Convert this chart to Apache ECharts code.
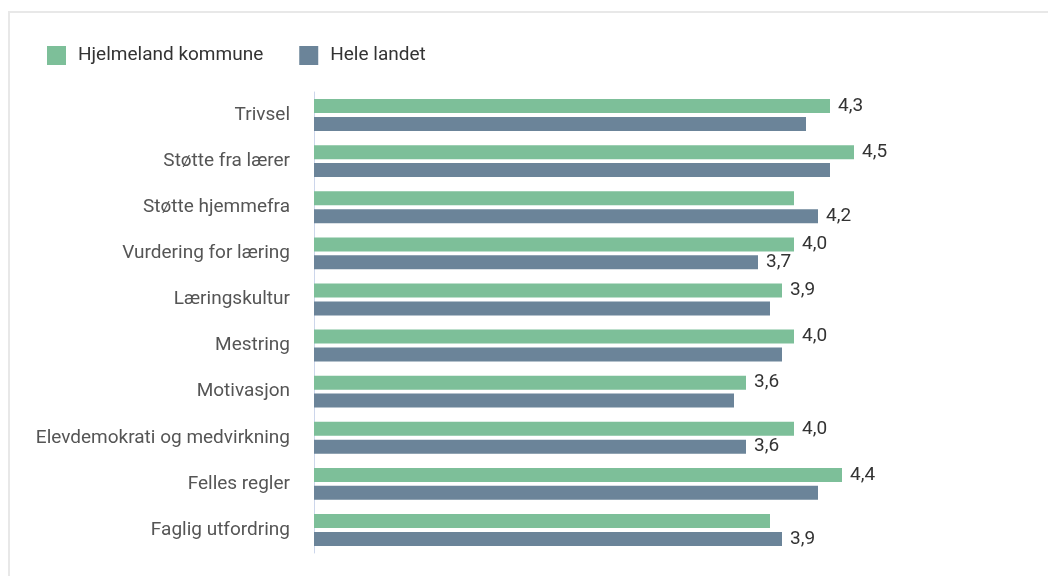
<!DOCTYPE html>
<html>
<head>
<meta charset="utf-8">
<script src="https://cdn.jsdelivr.net/npm/echarts@6/dist/echarts.min.js"></script>
<style>
html,body{margin:0;padding:0;background:#fff;}
#frame{position:absolute;left:8px;top:11px;width:1040px;height:565px;border-left:2px solid #e8e8e8;border-top:2px solid #e8e8e8;box-sizing:border-box;}
#chart{position:absolute;left:0;top:0;width:1048px;height:576px;}
</style>
</head>
<body>
<div id="frame"></div>
<div id="chart"></div>
<script>
const categories = ["Trivsel","Støtte fra lærer","Støtte hjemmefra","Vurdering for læring","Læringskultur","Mestring","Motivasjon","Elevdemokrati og medvirkning","Felles regler","Faglig utfordring"];
const seriesNames = ["Hjelmeland kommune","Hele landet"];
const hjelmeland = [4.3,4.5,4.0,4.0,3.9,4.0,3.6,4.0,4.4,3.8];
const heleLandet = [4.1,4.3,4.2,3.7,3.8,3.9,3.5,3.6,4.2,3.9];
const hjelmelandLabelShown = [true,true,false,true,true,true,true,true,true,false];
const heleLandetLabelShown = [false,false,true,true,false,false,false,true,false,true];

const colors = ["#7dbf99","#6b8499"];
function mk(vals, shown){
  return vals.map((v,i)=>({value:v,label:{show:shown[i]}}));
}
const labelCfg = {
  position:'right', distance:8, color:'#333', fontSize:19,
  fontFamily:'Roboto', formatter:p=>p.value.toFixed(1).replace('.',',')
};
const chart = echarts.init(document.getElementById('chart'));
chart.setOption({
  animation:false,
  legend:{
    left:42, top:41, itemWidth:19, itemHeight:19, icon:'rect', itemGap:36,
    textStyle:{fontFamily:'Roboto', fontSize:19, color:'#333', padding:[0,0,0,7]},
    data:seriesNames
  },
  grid:{left:314, top:92, width:600, height:461, containLabel:false},
  xAxis:{type:'value', min:0, max:5, show:false},
  yAxis:{
    type:'category', data:categories, inverse:true,
    axisLine:{show:true, lineStyle:{color:'#ccd6eb', width:1}},
    axisTick:{show:false},
    axisLabel:{fontFamily:'Roboto', fontSize:19, color:'#555', margin:24}
  },
  series:[
    {name:seriesNames[0], type:'bar', data:mk(hjelmeland,hjelmelandLabelShown), barWidth:14, barGap:'28%',
     itemStyle:{color:colors[0]}, label:labelCfg},
    {name:seriesNames[1], type:'bar', data:mk(heleLandet,heleLandetLabelShown), barWidth:14, barGap:'28%',
     itemStyle:{color:colors[1]}, label:labelCfg}
  ]
});
</script>
</body>
</html>
